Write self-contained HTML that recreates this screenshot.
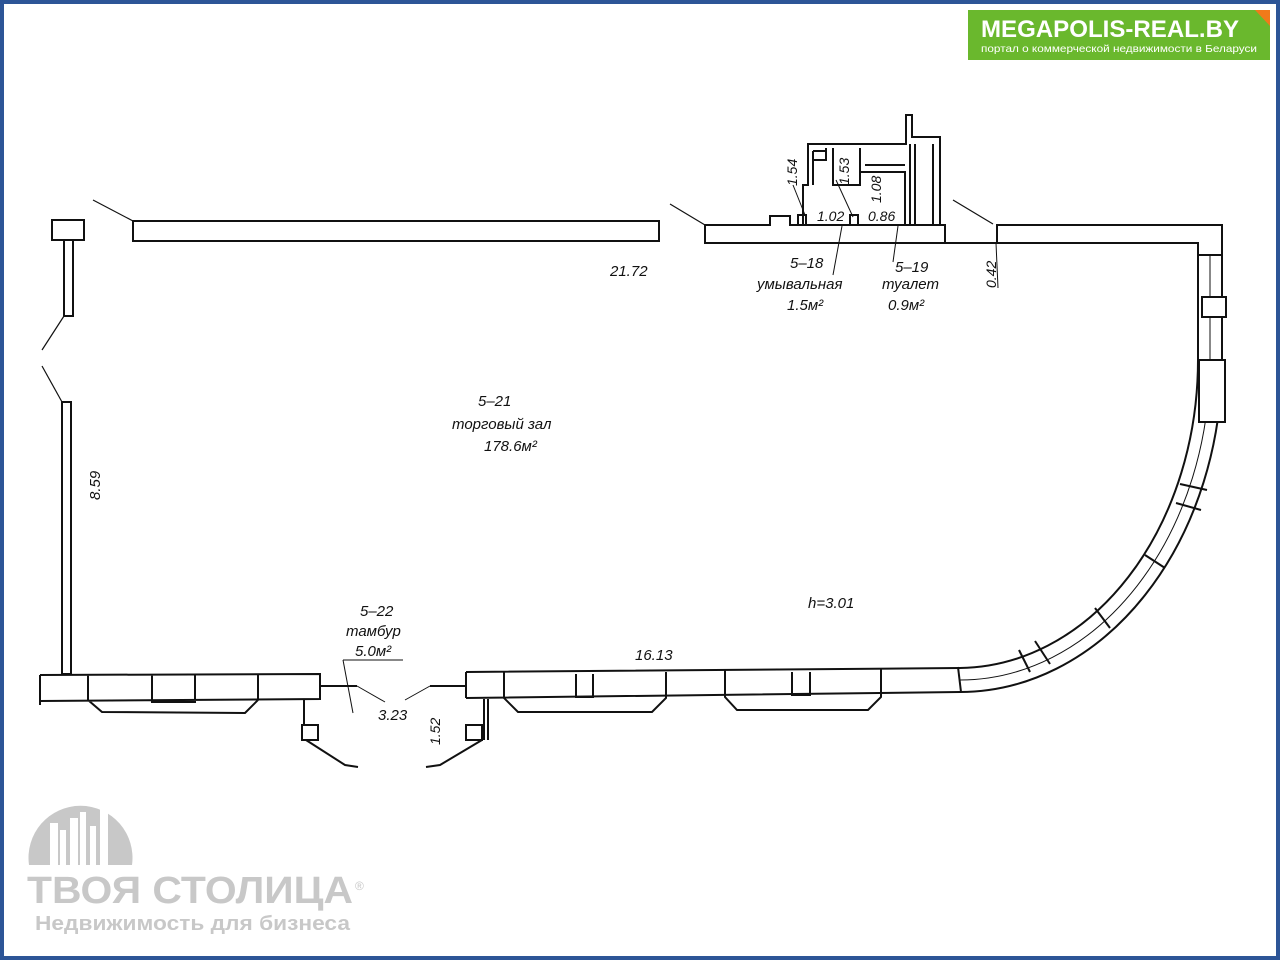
<!DOCTYPE html>
<html><head><meta charset="utf-8"><style>
html,body{margin:0;padding:0;background:#fff}
.wrap{position:relative;width:1280px;height:960px;overflow:hidden}
svg{position:absolute;left:0;top:0}
</style></head><body><div class="wrap">
<svg width="1280" height="960" viewBox="0 0 1280 960" font-family="Liberation Sans, DejaVu Sans, sans-serif">
<rect x="2" y="2" width="1276" height="956" fill="#fff" stroke="#2d5597" stroke-width="4"/>
<!-- banner -->
<polygon points="968,10 1262,10 1270,20 1270,60 968,60" fill="#6ab82d"/>
<polygon points="1255,10 1270,10 1270,26" fill="#f07a1a"/>
<text x="981" y="37" font-size="24" font-weight="bold" fill="#fff" textLength="258" lengthAdjust="spacingAndGlyphs">MEGAPOLIS-REAL.BY</text>
<text x="981" y="52" font-size="10.5" fill="#fff" textLength="276" lengthAdjust="spacingAndGlyphs">портал о коммерческой недвижимости в Беларуси</text>

<g fill="none" stroke="#111" stroke-width="2">
<rect x="133" y="221" width="526" height="20"/>
<line x1="93" y1="200" x2="133" y2="221" stroke-width="1.2"/>
<rect x="52" y="220" width="32" height="20"/>
<rect x="64" y="240" width="9" height="76"/>
<line x1="64" y1="316" x2="42" y2="350" stroke-width="1.2"/>
<line x1="42" y1="366" x2="62" y2="402" stroke-width="1.2"/>
<rect x="62" y="402" width="9" height="272"/>
<path d="M705,225 L770,225 L770,216 L790,216 L790,225 L945,225 L945,243 L705,243 Z"/>
<line x1="670" y1="204" x2="705" y2="225" stroke-width="1.2"/>
<path d="M945,243 L997,243" />
<line x1="953" y1="200" x2="993" y2="224" stroke-width="1.2"/>
<path d="M803,225 L803,185 L808,185 L808,144 L906,144 L906,115 L912,115 L912,137 L940,137 L940,225 M910,225 L910,144 M915,144 L915,225 M933,144 L933,225"/>
<path d="M813,151 L826,151 M826,148 L826,160 L813,160 M813,151 L813,185 M833,148 L833,185 L860,185 L860,148 M860,172 L905,172 L905,225 M865,165 L905,165"/>
<path d="M798,225 L798,215 L806,215 L806,225 M850,225 L850,215 L858,215 L858,225"/>
<path d="M997,243 L997,225 L1222,225 L1222,255 L1198,255 L1198,243 L997,243"/>
<path d="M1198,255 L1198,360 A240 308 0 0 1 960,668" />
<path d="M1222,255 L1222,360 A262 332 0 0 1 960,692" />
<path d="M1210,255 L1210,360 A250 320 0 0 1 960,680" stroke-width="1"/>
<rect x="1202" y="297" width="24" height="20" fill="#fff"/>
<rect x="1199" y="360" width="26" height="62" fill="#fff"/>
<line x1="1180" y1="484" x2="1207" y2="490"/><line x1="1176" y1="503" x2="1201" y2="510"/>
<line x1="1145" y1="555" x2="1165" y2="568"/>
<line x1="1095" y1="608" x2="1110" y2="628"/>
<line x1="1019" y1="650" x2="1030" y2="672"/><line x1="1035" y1="641" x2="1050" y2="664"/>
<line x1="958" y1="667" x2="961" y2="692"/>
<path d="M466,672 L960,668 M466,698 L960,692 M466,672 L466,698"/>
<path d="M504,672 L504,698 L518,712 L652,712 L666,698 L666,672 M576,674 L576,697 L593,697 L593,674"/>
<path d="M725,670 L725,697 L737,710 L868,710 L881,697 L881,669 M792,672 L792,695 L810,695 L810,672"/>
<path d="M40,675 L320,674 L320,699 L40,701 M40,675 L40,705 M88,675 L88,700 L102,712 L245,713 L258,700 L258,674 M152,675 L152,702 L195,702 L195,675"/>
<path d="M320,686 L357,686 M430,686 L466,686"/>
<path d="M304,699 L304,725 M302,725 L318,725 L318,740 L302,740 Z M306,740 L345,765 L358,767"/>
<path d="M484,699 L484,740 M488,699 L488,740 M466,725 L482,725 L482,740 L466,740 Z M482,740 L440,765 L426,767"/>
</g>
<g stroke="#111" stroke-width="1" fill="none">
<line x1="357" y1="686" x2="385" y2="702"/><line x1="430" y1="686" x2="405" y2="700"/>
<line x1="343" y1="660" x2="403" y2="660"/><line x1="343" y1="660" x2="353" y2="713"/>
<line x1="996" y1="243" x2="998" y2="288"/>
<line x1="793" y1="185" x2="805" y2="215"/><line x1="836" y1="180" x2="853" y2="217"/>
<line x1="842" y1="226" x2="833" y2="275"/><line x1="898" y1="226" x2="893" y2="262"/>
</g>
<g fill="#111" font-style="italic" font-size="15">
<text x="610" y="276">21.72</text>
<text x="478" y="406">5–21</text>
<text x="452" y="429">торговый зал</text>
<text x="484" y="451">178.6м²</text>
<text x="808" y="608">h=3.01</text>
<text x="635" y="660">16.13</text>
<text x="360" y="616">5–22</text>
<text x="346" y="636">тамбур</text>
<text x="355" y="656">5.0м²</text>
<text x="378" y="720">3.23</text>
<text x="790" y="268">5–18</text>
<text x="757" y="289">умывальная</text>
<text x="787" y="310">1.5м²</text>
<text x="895" y="272">5–19</text>
<text x="882" y="289">туалет</text>
<text x="888" y="310">0.9м²</text>
<text x="817" y="221" font-size="14">1.02</text>
<text x="868" y="221" font-size="14">0.86</text>
<text transform="translate(797,186) rotate(-90)" font-size="14">1.54</text>
<text transform="translate(849,185) rotate(-90)" font-size="14">1.53</text>
<text transform="translate(881,203) rotate(-90)" font-size="14">1.08</text>
<text transform="translate(996,288) rotate(-90)" font-size="14">0.42</text>
<text transform="translate(100,500) rotate(-90)">8.59</text>
<text transform="translate(440,745) rotate(-90)" font-size="14">1.52</text>
</g>
<g fill="#c8c8c8">
<path d="M29,865 A52 52 0 1 1 132,865 Z"/>
<g fill="#fff"><rect x="50" y="823" width="8" height="42"/><rect x="60" y="830" width="6" height="35"/><rect x="70" y="818" width="8" height="47"/><rect x="80" y="812" width="6" height="53"/><rect x="90" y="826" width="6" height="39"/><rect x="100" y="808" width="8" height="57"/></g>
<text x="27" y="903" font-size="38" font-weight="bold" textLength="326" lengthAdjust="spacingAndGlyphs">ТВОЯ СТОЛИЦА</text>
<text x="355" y="890" font-size="12">®</text>
<text x="35" y="930" font-size="20" font-weight="bold" textLength="315" lengthAdjust="spacingAndGlyphs">Недвижимость для бизнеса</text>
</g>
</svg></div></body></html>
